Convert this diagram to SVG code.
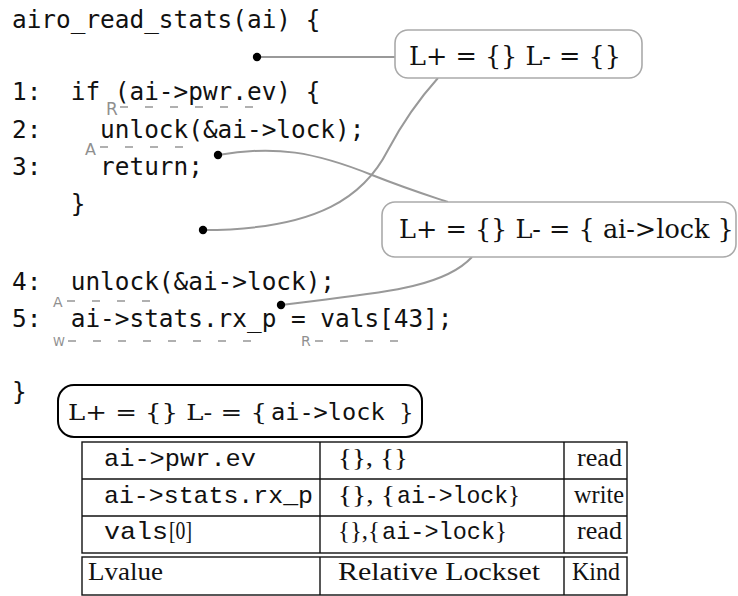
<svg xmlns="http://www.w3.org/2000/svg" width="738" height="596" viewBox="0 0 738 596">
<style>
.code{font-family:"DejaVu Sans Mono","Liberation Mono",monospace;font-size:24.4px;fill:#111;white-space:pre}
.ann{font-family:"DejaVu Sans","Open Sans",sans-serif;fill:#8f8f8f}
.dash{stroke:#b0b0b0;stroke-width:2;stroke-dasharray:8 17;fill:none}
.conn{stroke:#999;stroke-width:2;fill:none}
.dot{fill:#000}
.gbox{fill:#fff;stroke:#aaa;stroke-width:1.6}
.bbox{fill:#fff;stroke:#000;stroke-width:2}
.ser{font-family:"DejaVu Serif",serif;font-size:25.5px;fill:#111;white-space:pre}
.tser{font-family:"Liberation Serif","Times New Roman",serif;font-size:25px;fill:#111;white-space:pre}
.tmono{font-family:"Liberation Mono","Courier New",monospace;font-size:24px;fill:#111;white-space:pre}
.tl{stroke:#111;stroke-width:1.4;fill:none}
</style>
<g id="code">
<text class="code" x="12" y="28">airo_read_stats(ai) {</text>
<text class="code" x="12" y="100">1:  if (ai-&gt;pwr.ev) {</text>
<text class="code" x="12" y="138">2:    unlock(&amp;ai-&gt;lock);</text>
<text class="code" x="12" y="175">3:    return;</text>
<text class="code" x="12" y="212">    }</text>
<text class="code" x="12" y="290">4:  unlock(&amp;ai-&gt;lock);</text>
<text class="code" x="12" y="327">5:  ai-&gt;stats.rx_p = vals[43];</text>
<text class="code" x="12" y="400">}</text>
</g>
<g id="annotations">
<text class="ann" x="106" y="115" font-size="17">R</text>
<line class="dash" x1="120" y1="107" x2="265" y2="107"/>
<text class="ann" x="85" y="155" font-size="16">A</text>
<line class="dash" x1="100" y1="147" x2="185" y2="147"/>
<text class="ann" x="53" y="307" font-size="14">A</text>
<line class="dash" x1="67" y1="301" x2="157" y2="301"/>
<text class="ann" x="53" y="346" font-size="12">W</text>
<line class="dash" x1="68" y1="341" x2="265" y2="341"/>
<text class="ann" x="301" y="346" font-size="14">R</text>
<line class="dash" x1="315" y1="341" x2="405" y2="341"/>
</g>
<g id="connectors">
<line class="conn" x1="257" y1="57" x2="395" y2="57"/>
<path class="conn" d="M203,230 C320,230 365,195 388,150 C405,118 420,98 438,78"/>
<path class="conn" d="M218,155 C275,145 315,152 372,175 C410,190 430,196 448,202"/>
<path class="conn" d="M281,305 C360,294 440,292 472,257"/>
<circle class="dot" cx="257" cy="57" r="4.2"/>
<circle class="dot" cx="203" cy="230" r="4.2"/>
<circle class="dot" cx="218" cy="155" r="4.2"/>
<circle class="dot" cx="281" cy="305" r="4.2"/>
</g>
<g id="box1">
<rect class="gbox" x="395" y="30" width="247" height="48" rx="13"/>
<text class="ser" x="409" y="65">L+ = {} L- = {}</text>
</g>
<g id="box2">
<rect class="gbox" x="382" y="202" width="354" height="55" rx="13"/>
<text class="ser" x="399" y="238">L+ = {} L- = { ai-&gt;lock }</text>
</g>
<g id="box3">
<rect class="bbox" x="58" y="385" width="364" height="52" rx="16"/>
<text class="ser" x="68" y="420" style="font-size:23px" textLength="199" lengthAdjust="spacingAndGlyphs">L+ = {} L- = {</text>
<text class="code" x="271" y="420" style="font-size:23.6px">ai-&gt;lock</text>
<text class="ser" x="399" y="420" style="font-size:23px">}</text>
</g>
<g id="table">
<rect class="tl" x="82" y="442" width="545" height="111"/>
<line class="tl" x1="82" y1="479" x2="627" y2="479"/>
<line class="tl" x1="82" y1="516" x2="627" y2="516"/>
<line class="tl" x1="320" y1="442" x2="320" y2="553"/>
<line class="tl" x1="564" y1="442" x2="564" y2="553"/>
<rect class="tl" x="82" y="557" width="545" height="38"/>
<line class="tl" x1="320" y1="557" x2="320" y2="595"/>
<line class="tl" x1="564" y1="557" x2="564" y2="595"/>
<text class="tmono" x="104" y="466" textLength="152" lengthAdjust="spacingAndGlyphs">ai-&gt;pwr.ev</text>
<text class="tser" x="338" y="466" textLength="70" lengthAdjust="spacingAndGlyphs">{}, {}</text>
<text class="tser" x="577" y="466" textLength="45" lengthAdjust="spacingAndGlyphs">read</text>
<text class="tmono" x="104" y="503" textLength="209" lengthAdjust="spacingAndGlyphs">ai-&gt;stats.rx_p</text>
<text class="tser" x="338" y="503" textLength="57" lengthAdjust="spacingAndGlyphs">{}, {</text>
<text class="tmono" x="397" y="503" textLength="111" lengthAdjust="spacingAndGlyphs">ai-&gt;lock</text>
<text class="tser" x="508" y="503">}</text>
<text class="tser" x="574" y="503" textLength="50" lengthAdjust="spacingAndGlyphs">write</text>
<text class="tmono" x="104" y="539" textLength="64" lengthAdjust="spacingAndGlyphs">vals</text>
<text class="tser" x="169" y="539" textLength="23" lengthAdjust="spacingAndGlyphs">[0]</text>
<text class="tser" x="338" y="539" textLength="42" lengthAdjust="spacingAndGlyphs">{},{</text>
<text class="tmono" x="382" y="539" textLength="113" lengthAdjust="spacingAndGlyphs">ai-&gt;lock</text>
<text class="tser" x="495" y="539">}</text>
<text class="tser" x="577" y="539" textLength="45" lengthAdjust="spacingAndGlyphs">read</text>
<text class="tser" x="88" y="580" textLength="75" lengthAdjust="spacingAndGlyphs">Lvalue</text>
<text class="tser" x="338" y="580" textLength="202" lengthAdjust="spacingAndGlyphs">Relative Lockset</text>
<text class="tser" x="572" y="580" textLength="48" lengthAdjust="spacingAndGlyphs">Kind</text>
</g>
</svg>
